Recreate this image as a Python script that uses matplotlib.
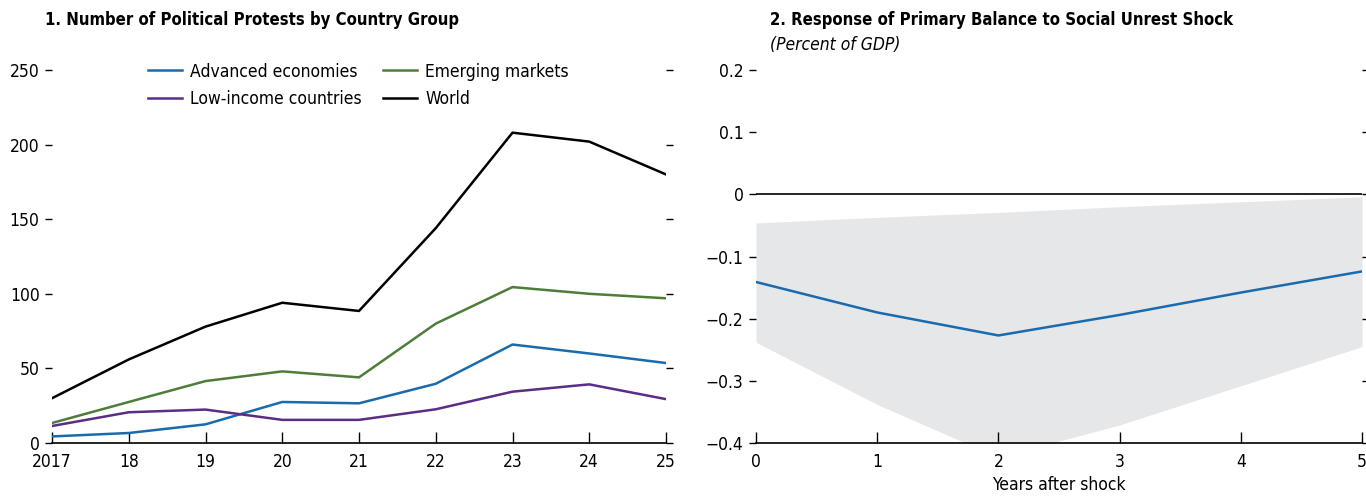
import matplotlib
matplotlib.use("Agg")
import matplotlib.pyplot as plt
from matplotlib import font_manager
from matplotlib.font_manager import FontProperties

names = {f.name for f in font_manager.fontManager.ttflist}
stretch = "normal"
if "Liberation Sans Narrow" in names:
    fam = "Liberation Sans Narrow"
else:
    fam = "DejaVu Sans"
    p = font_manager.findfont(FontProperties(family="DejaVu Sans", stretch="condensed"))
    if "Condensed" in p:
        stretch = "condensed"
plt.rcParams['font.family'] = [fam, 'DejaVu Sans']
plt.rcParams['font.stretch'] = stretch
plt.rcParams['axes.unicode_minus'] = True

# Panel 1 data
years = [2017, 2018, 2019, 2020, 2021, 2022, 2023, 2024, 2025]
year_labels = ["2017", "18", "19", "20", "21", "22", "23", "24", "25"]
advanced = [4.4, 6.7, 12.5, 27.5, 26.6, 39.7, 66, 60, 53.6]
low_income = [11.4, 20.6, 22.4, 15.5, 15.5, 22.6, 34.4, 39.3, 29.4]
emerging = [13.4, 27.5, 41.5, 48, 44, 80, 104.5, 100, 97]
world = [30, 56, 78, 94, 88.5, 144, 208, 202, 180]

# Panel 2 data
horizon = [0, 1, 2, 3, 4, 5]
response = [-0.141, -0.190, -0.227, -0.194, -0.158, -0.124]
upper = [-0.046, -0.037, -0.029, -0.020, -0.012, -0.004]
lower = [-0.238, -0.338, -0.423, -0.371, -0.308, -0.245]

BLUE = "#1a6aae"
GREEN = "#4e7d3a"
PURPLE = "#5b2d86"
GRAY = "#e6e7e9"
FS = 12.5
TFS = 12

fig = plt.figure(figsize=(13.66, 4.97), dpi=100)

# ---- Left panel
ax1 = fig.add_axes([52/1366, 1-443/497, (666-52)/1366, (443-70)/497])
ax1.plot(years, advanced, color=BLUE, lw=1.8, label="Advanced economies")
ax1.plot(years, low_income, color=PURPLE, lw=1.8, label="Low-income countries")
ax1.plot(years, emerging, color=GREEN, lw=1.8, label="Emerging markets")
ax1.plot(years, world, color="black", lw=1.8, label="World")
ax1.set_xlim(2017, 2025)
ax1.set_ylim(0, 250)
ax1.set_xticks(years)
ax1.set_xticklabels(year_labels)
ax1.set_yticks([0, 50, 100, 150, 200, 250])
for s in ["left", "right", "top"]:
    ax1.spines[s].set_visible(False)
ax1.spines["bottom"].set_linewidth(1.2)
ax1.tick_params(axis="x", direction="in", length=8, width=1, labelsize=FS, pad=7)
ax1.tick_params(axis="y", direction="out", length=5, width=1, labelsize=FS, pad=4,
                right=True)
leg = ax1.legend(loc="upper left", bbox_to_anchor=(0.156, 1.02), ncol=2, frameon=False,
                 fontsize=FS, handlelength=1.95, handletextpad=0.5, columnspacing=1.2,
                 labelspacing=0.55, borderpad=0, borderaxespad=0)
fig.text(45/1366, 1-20/497, "1. Number of Political Protests by Country Group",
         fontsize=TFS, fontweight="bold", va="center", ha="left")

# ---- Right panel
ax2 = fig.add_axes([756/1366, 1-443/497, (1362-756)/1366, (443-70)/497])
ax2.fill_between(horizon, lower, upper, color=GRAY, lw=0)
ax2.plot(horizon, response, color=BLUE, lw=1.8)
ax2.axhline(0, color="black", lw=1.2)
ax2.set_xlim(0, 5)
ax2.set_ylim(-0.4, 0.2)
ax2.set_xticks(horizon)
ax2.set_yticks([-0.4, -0.3, -0.2, -0.1, 0, 0.1, 0.2])
ax2.set_yticklabels(["\u22120.4", "\u22120.3", "\u22120.2", "\u22120.1", "0", "0.1", "0.2"])
for s in ["left", "right", "top"]:
    ax2.spines[s].set_visible(False)
ax2.spines["bottom"].set_linewidth(1.2)
ax2.tick_params(axis="x", direction="in", length=8, width=1, labelsize=FS, pad=7)
ax2.tick_params(axis="y", direction="out", length=5, width=1, labelsize=FS, pad=4,
                right=True)
ax2.set_xlabel("Years after shock", fontsize=FS, labelpad=4)
fig.text(770/1366, 1-20/497, "2. Response of Primary Balance to Social Unrest Shock",
         fontsize=TFS, fontweight="bold", va="center", ha="left")
fig.text(770/1366, 1-45/497, "(Percent of GDP)", fontsize=FS, style="italic",
         va="center", ha="left")

fig.savefig("out.png", dpi=100)
